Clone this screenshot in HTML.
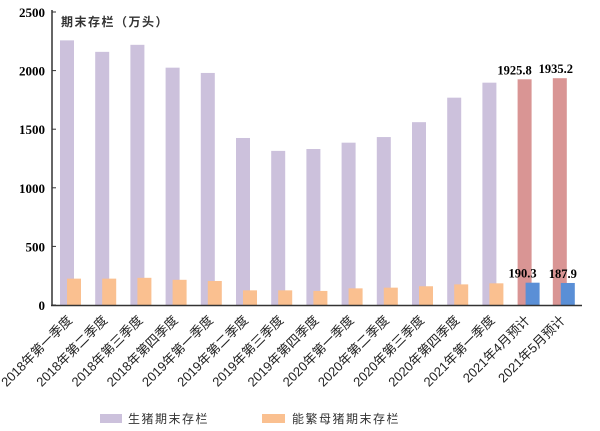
<!DOCTYPE html>
<html><head><meta charset="utf-8"><style>
html,body{margin:0;padding:0;background:#fff;}
svg{display:block;font-family:"Liberation Sans","Noto Sans CJK SC",sans-serif;}
.num{font-family:"Liberation Serif","Noto Serif CJK SC",serif;font-weight:bold;}
</style></head><body>
<svg id="chart" width="600" height="431" viewBox="0 0 600 431" xmlns="http://www.w3.org/2000/svg"></svg>
<script>
const categories=["2018年第一季度","2018年第二季度","2018年第三季度","2018年第四季度","2019年第一季度","2019年第二季度","2019年第三季度","2019年第四季度","2020年第一季度","2020年第二季度","2020年第三季度","2020年第四季度","2021年第一季度","2021年4月预计","2021年5月预计"];
const hogValues=[2258,2160,2220,2025,1980,1425,1315,1331,1385,1433,1560,1769,1897,1925.8,1935.2];
const sowValues=[225,225,232,215,205,125,125,120,142,148,160,176,185,190.3,187.9];
const forecastFlags=[0,0,0,0,0,0,0,0,0,0,0,0,0,1,1];
const yTicks=[0,500,1000,1500,2000,2500];
const NS="http://www.w3.org/2000/svg";
const svg=document.getElementById('chart');
const y0=305,yTop=12,yMax=2500;
function yScale(v){return y0-(v/yMax)*(y0-yTop);}
function xScale(i){return 60+i*35.2;}
function mk(tag,attrs,parent){const e=document.createElementNS(NS,tag);for(const k in attrs)e.setAttribute(k,attrs[k]);(parent||svg).appendChild(e);return e;}
categories.forEach((c,i)=>{
  const x=xScale(i),f=forecastFlags[i];
  const b1=mk('rect',{x:x,y:yScale(hogValues[i]),width:14,height:y0-yScale(hogValues[i]),fill:f?'#d99594':'#ccc1dc'});
  
  
  const b2=mk('rect',{x:x+(f?8:7),y:yScale(sowValues[i]),width:14,height:y0-yScale(sowValues[i]),fill:f?'#5a8fd6':'#fac090'});
  
  
  if(f){
    const t1=mk('text',{x:x+(i===13?-3:3),y:yScale(hogValues[i])-5,'text-anchor':'middle','font-size':12.5,class:'num'});
    t1.textContent=hogValues[i].toFixed(1);
    
    
    const t2=mk('text',{x:x+(i===13?5:10),y:yScale(sowValues[i])-5,'text-anchor':'middle','font-size':12.5,class:'num'});
    t2.textContent=sowValues[i].toFixed(1);
    
    
  }
  const lx=x+13,ly=321;
  const t=mk('text',{x:lx,y:ly,'text-anchor':'end','font-size':13,fill:'#222',transform:`rotate(-45 ${lx} ${ly})`});
  t.textContent=c;
  
  
});
const ax=mk('line',{x1:52,y1:10,x2:52,y2:306,stroke:'#333','stroke-width':1.5});


const xx=mk('line',{x1:51,y1:305.5,x2:582,y2:305.5,stroke:'#333','stroke-width':1.5});


yTicks.forEach(v=>{
  const y=yScale(v);
  mk('line',{x1:52,y1:y,x2:56,y2:y,stroke:'#333'});
  const t=mk('text',{x:45,y:y+5,'text-anchor':'end','font-size':13,class:'num'});
  t.textContent=v;
  
  
});
const yt=mk('text',{x:61,y:26,'font-size':12,'font-weight':'bold',fill:'#333','letter-spacing':'1.5'});
yt.textContent='期末存栏（万头）';


const l1=mk('rect',{x:100,y:414,width:22,height:9,fill:'#ccc1dc'});


const lt1=mk('text',{x:128,y:423,'font-size':12,fill:'#333','letter-spacing':'1.5'});
lt1.textContent='生猪期末存栏';


const l2=mk('rect',{x:262,y:414,width:23,height:9,fill:'#fac090'});


const lt2=mk('text',{x:292,y:423,'font-size':12,fill:'#333','letter-spacing':'1.5'});
lt2.textContent='能繁母猪期末存栏';


</script>
</body></html>
